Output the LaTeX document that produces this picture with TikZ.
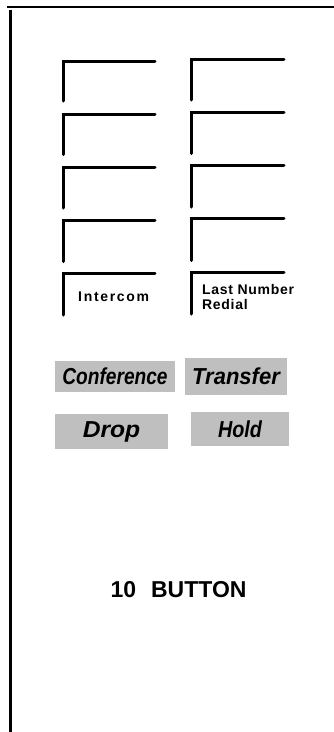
\documentclass[tikz,border=0pt]{standalone}
\usepackage{fontspec}
\usepackage{graphicx}
\setmainfont{Liberation Sans}
\newfontfamily\keylabelfont[LetterSpace=5]{Liberation Sans}

\begin{document}
\begin{tikzpicture}[x=1pt, y=-1pt]
	\tikzstyle{lamp} = [line width=3pt, line cap=round]
	\tikzstyle{softkey} = [fill=black!25, inner sep=0pt, font=\fontsize{22}{26}\selectfont\bfseries\itshape]
	\tikzstyle{keylabel} = [inner sep=0pt, align=left, font=\keylabelfont\fontsize{14}{15}\selectfont\bfseries]
	
	\useasboundingbox (0,0) rectangle (334,732);
	\draw[line width=2.3pt] (7,7) -- (334,7);
	\draw[line width=2.8pt] (10.5,10) -- (10.5,732);
	
	% button lamps
	\foreach \i in {0,...,4}{
		\draw[lamp] (63, 101+53.5*\i) |- (155, 61+53*\i);
		\draw[lamp] (191, 100+53.5*\i) |- (284, 59+53.25*\i);
	}
	
	\node[keylabel, anchor=base west] 	at (78, 301.7) 	(intercom) 	{\addfontfeatures{LetterSpace=12}Intercom};
	\node[keylabel, anchor=north west] 	at (202, 284.5) 	(redial) 	{Last Number\\Redial};
	
	\node[softkey, minimum width=120pt, minimum height=31pt] 	at (115, 376.5) 	(conference) 	{\scalebox{0.87}[1.05]{Conference}};
	\node[softkey, minimum width=102pt, minimum height=37pt] 	at (236, 376.5) 	(transfer) 		{\scalebox{1}[1.05]{Transfer}};
	\node[softkey, minimum width=113pt, minimum height=35pt] 	at (111.5, 431.5) 	(drop) 			{\scalebox{1.12}[1.05]{Drop}};
	\node[softkey, minimum width=98pt, minimum height=34pt] 	at (240, 429) 		(hold) 			{\scalebox{0.9}[1.05]{Hold}};
	
	\node[font=\fontsize{23}{27}\selectfont\bfseries] at (178.5, 589.5) (model) {10\hspace{15pt}BUTTON};
\end{tikzpicture}
\end{document}
